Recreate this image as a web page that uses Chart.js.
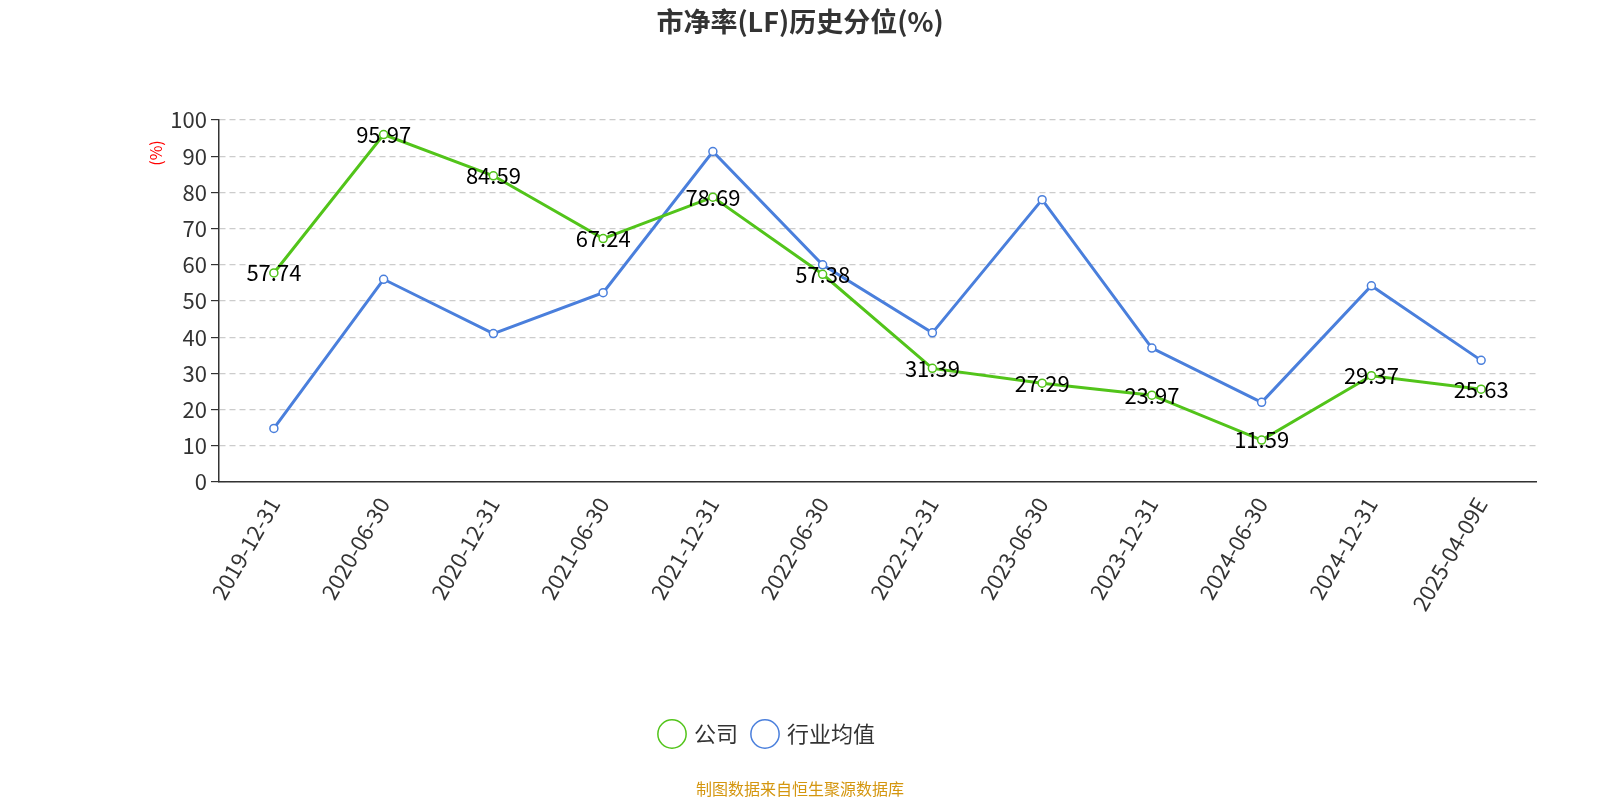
<!DOCTYPE html>
<html><head><meta charset="utf-8">
<script src="https://cdn.jsdelivr.net/npm/chart.js@4"></script>
<style>html,body{margin:0;padding:0;background:#fff;overflow:hidden}#w{width:1600px;height:800px}</style>
</head><body><div id="w"><canvas id="c"></canvas></div>
<script>
const categories=["2019-12-31","2020-06-30","2020-12-31","2021-06-30","2021-12-31","2022-06-30","2022-12-31","2023-06-30","2023-12-31","2024-06-30","2024-12-31","2025-04-09E"];
const companyValues=[57.74,95.97,84.59,67.24,78.69,57.38,31.39,27.29,23.97,11.59,29.37,25.63];
const industryValues=[14.8,56.0,41.0,52.3,91.3,60.0,41.2,78.0,37.0,22.0,54.2,33.6];
const yTicks=[0,10,20,30,40,50,60,70,80,90,100];
const FONT='"Noto Sans CJK SC","Noto Sans",sans-serif';
const deco={id:'deco',afterDraw(ch){const c=ch.ctx;c.save();
 c.textAlign='center';c.textBaseline='middle';
 c.fillStyle='#333';c.font='bold 27px '+FONT;c.fillText('市净率(LF)历史分位(%)',800,22);
 c.fillStyle='#d4960f';c.font='16px '+FONT;c.fillText('制图数据来自恒生聚源数据库',800,789);
 c.save();c.translate(156,153);c.rotate(-Math.PI/2);c.fillStyle='red';c.font='16px '+FONT;c.fillText('(%)',0,0);c.restore();
 const m=ch.getDatasetMeta(0);c.fillStyle='#000';c.font='22px '+FONT;
 m.data.forEach((p,i)=>c.fillText(companyValues[i].toFixed(2),p.x,p.y));
 c.restore();}};
new Chart(document.getElementById('c'),{type:'line',
data:{labels:categories,datasets:[
 {label:'公司',data:companyValues,borderColor:'#52c41a',backgroundColor:'#fff',borderWidth:3,pointRadius:4,pointBorderWidth:1.5,pointBackgroundColor:'#fff',tension:0},
 {label:'行业均值',data:industryValues,borderColor:'#4a7fdc',backgroundColor:'#fff',borderWidth:3,pointRadius:4,pointBorderWidth:1.5,pointBackgroundColor:'#fff',tension:0}]},
options:{responsive:true,maintainAspectRatio:false,animation:false,
 layout:{padding:{top:120,right:64,bottom:45,left:0}},
 plugins:{title:{display:false},tooltip:{enabled:false},
  legend:{position:'bottom',labels:{usePointStyle:true,pointStyle:'circle',boxHeight:20,padding:16,color:'#333',font:{size:22,family:FONT}}}},
 scales:{
  x:{afterFit(s){s.height=225},grid:{display:false,drawTicks:true,tickLength:8},offset:true,border:{color:'#333',width:1.5},
     ticks:{maxRotation:60,minRotation:60,color:'#333',font:{size:22,family:FONT},autoSkip:false}},
  y:{min:0,max:100,afterFit(s){s.width=219},afterBuildTicks(s){s.ticks=yTicks.map(v=>({value:v}))},
     border:{color:'#333',width:1.5},grid:{color:'#ccc',tickLength:8,tickColor:'#333',lineWidth:1.2},
     ticks:{color:'#333',font:{size:22,family:FONT},padding:4}}}},
plugins:[deco,{id:'dash',beforeDraw(ch){ch.options.scales.y.border.dash=[6,4]}}]});
</script></body></html>
